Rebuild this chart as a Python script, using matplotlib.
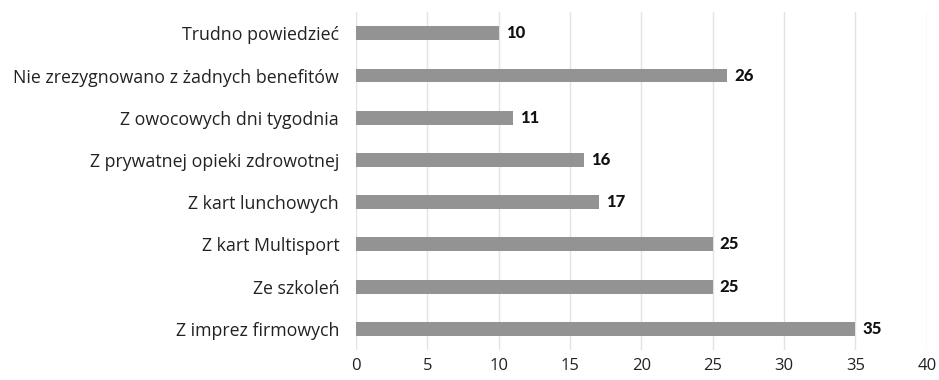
import matplotlib.pyplot as plt

categories = [
    "Z imprez firmowych",
    "Ze szkoleń",
    "Z kart Multisport",
    "Z kart lunchowych",
    "Z prywatnej opieki zdrowotnej",
    "Z owocowych dni tygodnia",
    "Nie zrezygnowano z żadnych benefitów",
    "Trudno powiedzieć",
]
values = [35, 25, 25, 17, 16, 11, 26, 10]
x_ticks = [0, 5, 10, 15, 20, 25, 30, 35, 40]

plt.rcParams["font.family"] = ["Open Sans", "DejaVu Sans"]

fig = plt.figure(figsize=(9.39, 3.80), dpi=100)
ax = fig.add_axes([0.379, 0.079, 0.608, 0.889])

pos = list(range(len(categories)))
ax.barh(pos, values, height=0.33, color="#939393", zorder=2)

# value labels at the end of each bar
for y, v in zip(pos, values):
    ax.text(v + 0.5, y, str(v), va="center", ha="left", family="Lato",
            fontsize=12, fontweight="black", color="#111111")

ax.set_yticks(pos)
ax.set_yticklabels(categories, fontsize=12.8, color="#222222")
ax.set_xticks(x_ticks)
ax.set_xticklabels([str(t) for t in x_ticks], fontsize=12, color="#222222")
ax.set_xlim(0, 40)
ax.set_ylim(-0.5, 7.5)

ax.grid(axis="x", color="#e3e3e3", linewidth=1, zorder=0)
ax.tick_params(axis="y", length=0, pad=12)
ax.tick_params(axis="x", length=0, pad=6)
for s in ax.spines.values():
    s.set_visible(False)

fig.savefig("out.png", dpi=100)
